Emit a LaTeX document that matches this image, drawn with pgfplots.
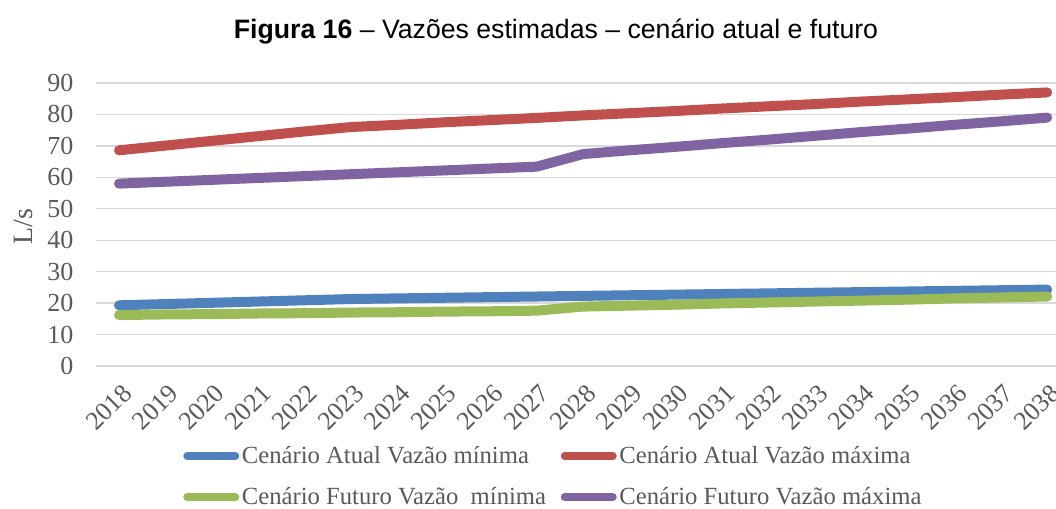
\documentclass[border=0pt]{standalone}
\usepackage{fontspec}
\setmainfont{Liberation Serif}
\newfontfamily\titlefont{Liberation Sans}
\usepackage{pgfplots}
\pgfplotsset{compat=1.18}
\definecolor{cblue}{HTML}{4F81BD}
\definecolor{cred}{HTML}{C0504D}
\definecolor{cgreen}{HTML}{9BBB59}
\definecolor{cpurple}{HTML}{8064A2}
\definecolor{txtgray}{HTML}{595959}
\definecolor{gridgray}{HTML}{D9D9D9}
\begin{document}
\begin{tikzpicture}
\useasboundingbox (0,0) rectangle (792pt,381pt);
\begin{axis}[
  at={(72pt,106.5pt)}, anchor=south west,
  scale only axis, width=720pt, height=212.25pt,
  xmin=2017.504, xmax=2038.19, ymin=0, ymax=90,
  ytick={0,10,...,90},
  xtick={2018,...,2038},
  /pgf/number format/assume math mode=true,
  /pgf/number format/1000 sep={},
  axis line style={draw=none},
  major tick length=0pt,
  ymajorgrids, grid style={gridgray, line width=1pt},
  tick label style={font=\fontsize{19.5}{22}\selectfont, text=txtgray},
  yticklabel style={xshift=-13.5pt},
  xticklabel style={xshift=1.5pt, yshift=-7.5pt, rotate=45, anchor=north east},
  clip=false,
  legend columns=2,
  legend cell align=left,
  legend style={at={(0.0906,-0.274)}, anchor=north west, draw=none, fill=none,
    font=\fontsize{18.5}{21}\selectfont, text=txtgray, inner sep=0pt, row sep=12.5pt,
    /tikz/every even column/.append style={column sep=9pt}},
  legend image code/.code={\draw[#1, line width=6pt, line cap=round] (3pt,0pt) -- (39pt,0pt);},
  every axis plot/.append style={line width=7.5pt, line cap=round, line join=round},
]
\addplot[cblue] coordinates {
(2018,19.3)(2019,19.7)(2020,20.1)(2021,20.5)(2022,20.9)(2023,21.3)(2024,21.5)(2025,21.7)(2026,21.9)(2027,22.1)(2028,22.3)(2029,22.5)(2030,22.7)(2031,22.9)(2032,23.1)(2033,23.3)(2034,23.5)(2035,23.7)(2036,23.9)(2037,24.1)(2038,24.3)};
\addlegendentry{Cenário Atual Vazão mínima}
\addplot[cred] coordinates {
(2018,68.6)(2019,70.1)(2020,71.6)(2021,73.1)(2022,74.6)(2023,76.0)(2024,76.7)(2025,77.5)(2026,78.2)(2027,78.9)(2028,79.7)(2029,80.4)(2030,81.1)(2031,81.9)(2032,82.6)(2033,83.3)(2034,84.1)(2035,84.8)(2036,85.5)(2037,86.3)(2038,87.0)};
\addlegendentry{Cenário Atual Vazão máxima}
\addplot[cgreen] coordinates {
(2018,16.2)(2019,16.4)(2020,16.5)(2021,16.7)(2022,16.8)(2023,17.0)(2024,17.1)(2025,17.3)(2026,17.4)(2027,17.6)(2028,18.9)(2029,19.2)(2030,19.5)(2031,19.9)(2032,20.2)(2033,20.5)(2034,20.8)(2035,21.1)(2036,21.5)(2037,21.8)(2038,22.1)};
\addlegendentry{Cenário Futuro Vazão~ mínima}
\addplot[cpurple] coordinates {
(2018,58.0)(2019,58.6)(2020,59.2)(2021,59.8)(2022,60.4)(2023,61.0)(2024,61.6)(2025,62.2)(2026,62.8)(2027,63.4)(2028,67.4)(2029,68.6)(2030,69.7)(2031,70.9)(2032,72.0)(2033,73.2)(2034,74.4)(2035,75.5)(2036,76.7)(2037,77.8)(2038,79.0)};
\addlegendentry{Cenário Futuro Vazão máxima}
\end{axis}
\node[anchor=base, font=\titlefont\fontsize{20}{24}\selectfont] at (417pt,352pt) {\textbf{Figura 16} – Vazões estimadas – cenário atual e futuro};
\node[rotate=90, font=\fontsize{21}{24}\selectfont, text=txtgray] at (17.25pt,210.75pt) {L/s};
\end{tikzpicture}
\end{document}
